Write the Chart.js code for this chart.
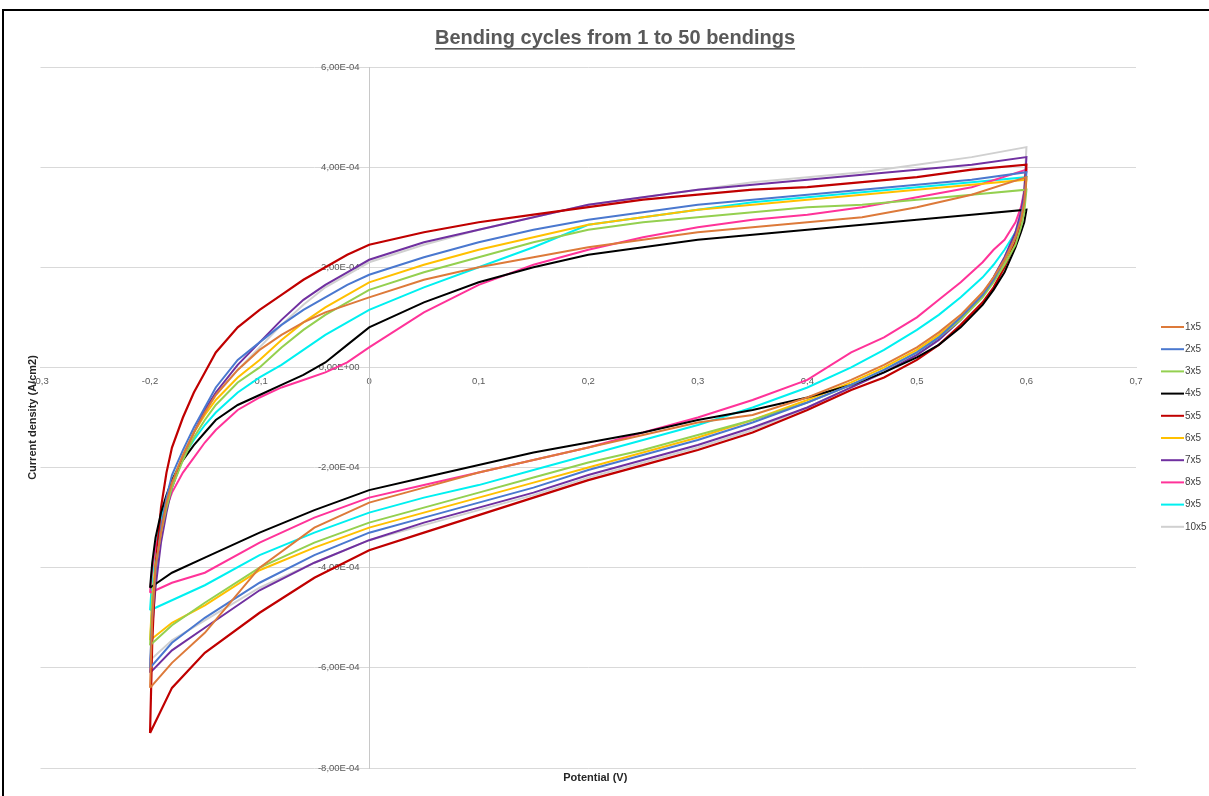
<!DOCTYPE html>
<html lang="en">
<head>
<meta charset="UTF-8">
<title>Bending cycles from 1 to 50 bendings</title>
<script src="https://cdn.jsdelivr.net/npm/chart.js"></script>
<style>
    html, body {
        margin: 0;
        padding: 0;
        background: #ffffff;
        overflow: hidden;
    }
    body {
        width: 1209px;
        height: 796px;
        position: relative;
    }
    #frame {
        position: absolute;
        left: 2px;
        top: 9px;
        width: 1300px;
        height: 900px;
        border: 2px solid #000000;
    }
    #chart-box {
        position: absolute;
        left: 0;
        top: 0;
    }
</style>
</head>
<body>
<div id="frame"></div>
<div id="chart-box"><canvas id="cvChart" width="1209" height="796"></canvas></div>

<script>
// Potential (V): forward scan -0.2 -> 0.6, then reverse scan 0.6 -> -0.2
const potential = [
    -0.2, -0.198, -0.195, -0.19, -0.185, -0.18, -0.17, -0.16, -0.15, -0.14, -0.12, -0.1, -0.08, -0.06, -0.04, -0.02, 0,
    0.05, 0.1, 0.15, 0.2, 0.25, 0.3, 0.35, 0.4, 0.45, 0.5, 0.55, 0.6,
    0.6, 0.598, 0.595, 0.59, 0.58, 0.57, 0.56, 0.54, 0.52, 0.5, 0.47, 0.44, 0.4,
    0.35, 0.3, 0.25, 0.2, 0.15, 0.1, 0.05, 0, -0.05, -0.1, -0.15, -0.18, -0.2
];

// Current density, in units of 1E-04 A/cm2
const cd1x5 = [
    -6.4, -5.0, -4.0, -3.3, -2.7, -2.3, -1.75, -1.3, -0.9, -0.55, -0.05, 0.35, 0.65, 0.9, 1.1, 1.25, 1.4,
    1.75, 2.0, 2.2, 2.4, 2.55, 2.7, 2.8, 2.9, 3.0, 3.2, 3.45, 3.8,
    3.8, 3.3, 2.95, 2.6, 2.15, 1.8, 1.5, 1.05, 0.7, 0.4, 0.05, -0.25, -0.6,
    -0.95, -1.1, -1.35, -1.6, -1.85, -2.1, -2.4, -2.7, -3.2, -4.0, -5.3, -5.9, -6.4
];
const cd2x5 = [
    -6.0, -5.0, -4.1, -3.2, -2.6, -2.15, -1.65, -1.2, -0.8, -0.4, 0.15, 0.5, 0.85, 1.15, 1.4, 1.65, 1.85,
    2.2, 2.5, 2.75, 2.95, 3.1, 3.25, 3.35, 3.45, 3.55, 3.65, 3.75, 3.9,
    3.9, 3.35, 3.0, 2.6, 2.15, 1.75, 1.45, 1.0, 0.6, 0.3, -0.05, -0.35, -0.7,
    -1.1, -1.45, -1.75, -2.05, -2.4, -2.7, -3.0, -3.3, -3.75, -4.3, -5.0, -5.5, -6.0
];
const cd3x5 = [
    -5.55, -4.7, -4.0, -3.3, -2.8, -2.4, -1.85, -1.4, -1.05, -0.75, -0.3, 0.0, 0.4, 0.75, 1.05, 1.3, 1.55,
    1.9, 2.2, 2.5, 2.75, 2.9, 3.0, 3.1, 3.2, 3.25, 3.35, 3.45, 3.55,
    3.55, 3.1, 2.8, 2.45, 2.05, 1.7, 1.4, 0.95, 0.6, 0.3, -0.05, -0.35, -0.7,
    -1.05, -1.35, -1.65, -1.9, -2.2, -2.5, -2.8, -3.1, -3.5, -4.0, -4.7, -5.15, -5.55
];
const cd4x5 = [
    -4.4, -3.9, -3.4, -2.9, -2.55, -2.25, -1.85, -1.55, -1.3, -1.05, -0.75, -0.55, -0.35, -0.15, 0.1, 0.45, 0.8,
    1.3, 1.7, 2.0, 2.25, 2.4, 2.55, 2.65, 2.75, 2.85, 2.95, 3.05, 3.15,
    3.15, 2.9, 2.7, 2.4, 1.9, 1.55, 1.25, 0.8, 0.45, 0.2, -0.1, -0.35, -0.6,
    -0.85, -1.05, -1.3, -1.5, -1.7, -1.95, -2.2, -2.45, -2.85, -3.3, -3.8, -4.1, -4.4
];
const cd5x5 = [
    -7.3, -5.5, -4.0, -2.8, -2.1, -1.6, -1.0, -0.5, -0.1, 0.3, 0.8, 1.15, 1.45, 1.75, 2.0, 2.25, 2.45,
    2.7, 2.9, 3.05, 3.2, 3.35, 3.45, 3.55, 3.6, 3.7, 3.8, 3.95, 4.05,
    4.05, 3.3, 2.9, 2.5, 2.0, 1.6, 1.3, 0.85, 0.45, 0.15, -0.2, -0.45, -0.85,
    -1.3, -1.65, -1.95, -2.25, -2.6, -2.95, -3.3, -3.65, -4.2, -4.9, -5.7, -6.4, -7.3
];
const cd6x5 = [
    -5.45, -4.6, -3.9, -3.2, -2.7, -2.3, -1.75, -1.3, -0.95, -0.65, -0.2, 0.15, 0.55, 0.9, 1.2, 1.45, 1.7,
    2.05, 2.35, 2.6, 2.85, 3.0, 3.15, 3.25, 3.35, 3.45, 3.55, 3.65, 3.75,
    3.75, 3.2, 2.85, 2.5, 2.1, 1.75, 1.45, 1.0, 0.65, 0.35, 0.0, -0.3, -0.65,
    -1.05, -1.4, -1.7, -2.0, -2.3, -2.6, -2.9, -3.2, -3.6, -4.05, -4.75, -5.1, -5.45
];
const cd7x5 = [
    -6.1, -5.2, -4.4, -3.5, -2.9, -2.4, -1.8, -1.3, -0.85, -0.5, 0.05, 0.5, 0.95, 1.35, 1.65, 1.9, 2.15,
    2.5, 2.75, 3.0, 3.25, 3.4, 3.55, 3.65, 3.75, 3.85, 3.95, 4.05, 4.2,
    4.2, 3.5, 3.1, 2.7, 2.2, 1.8, 1.45, 0.95, 0.55, 0.25, -0.1, -0.4, -0.8,
    -1.2, -1.55, -1.85, -2.15, -2.5, -2.8, -3.1, -3.45, -3.9, -4.45, -5.2, -5.65, -6.1
];
const cd8x5 = [
    -4.5, -4.0, -3.6, -3.15, -2.8, -2.5, -2.1, -1.8, -1.5, -1.25, -0.85, -0.6, -0.4, -0.25, -0.1, 0.1, 0.4,
    1.1, 1.65, 2.05, 2.35, 2.6, 2.8, 2.95, 3.05, 3.2, 3.4, 3.6, 3.95,
    3.95, 3.5, 3.2, 2.9, 2.55, 2.35, 2.1, 1.7, 1.35, 1.0, 0.6, 0.3, -0.25,
    -0.65, -1.0, -1.3, -1.6, -1.85, -2.1, -2.35, -2.6, -3.0, -3.5, -4.1, -4.3, -4.5
];
const cd9x5 = [
    -4.85, -4.2, -3.6, -3.0, -2.6, -2.25, -1.8, -1.45, -1.15, -0.9, -0.5, -0.2, 0.05, 0.35, 0.65, 0.9, 1.15,
    1.6, 2.0, 2.4, 2.85, 3.0, 3.15, 3.3, 3.4, 3.5, 3.6, 3.7, 3.8,
    3.8, 3.3, 3.0, 2.7, 2.35, 2.05, 1.8, 1.4, 1.05, 0.75, 0.35, 0.0, -0.4,
    -0.8, -1.15, -1.45, -1.75, -2.05, -2.35, -2.6, -2.9, -3.3, -3.75, -4.35, -4.65, -4.85
];
const cd10x5 = [
    -5.85, -5.0, -4.2, -3.4, -2.85, -2.4, -1.8, -1.3, -0.9, -0.55, -0.05, 0.4, 0.85, 1.25, 1.6, 1.85, 2.1,
    2.45, 2.75, 3.0, 3.25, 3.4, 3.55, 3.7, 3.8, 3.9, 4.05, 4.2, 4.4,
    4.4, 3.6, 3.15, 2.7, 2.2, 1.8, 1.45, 0.95, 0.55, 0.25, -0.1, -0.4, -0.8,
    -1.25, -1.6, -1.9, -2.2, -2.55, -2.85, -3.15, -3.45, -3.9, -4.4, -5.05, -5.45, -5.85
];

const seriesNames = ['1x5', '2x5', '3x5', '4x5', '5x5', '6x5', '7x5', '8x5', '9x5', '10x5'];
const seriesData = [cd1x5, cd2x5, cd3x5, cd4x5, cd5x5, cd6x5, cd7x5, cd8x5, cd9x5, cd10x5];
const seriesColors = ['#dd7a3a', '#4a78cf', '#94d050', '#000000', '#c00000',
                      '#ffc000', '#7030a0', '#ff3399', '#00f0f0', '#d0d0d0'];

const xTicks = [-0.3, -0.2, -0.1, 0, 0.1, 0.2, 0.3, 0.4, 0.5, 0.6, 0.7];
const yTicks = [-8, -6, -4, -2, 0, 2, 4, 6];   // x 1E-04

const chartTitle = 'Bending cycles from 1 to 50 bendings';
const xTitle = 'Potential (V)';
const yTitle = 'Current density (A/cm2)';

const FONT = "'Liberation Sans Narrow', 'Liberation Sans', sans-serif";
Chart.defaults.font.family = FONT;

// "6,00E-04" style labels (values are in 1E-04)
function sciLabel(v) {
    if (Math.abs(v) < 1e-9) return '0,00E+00';
    const s = (v * 1e-4).toExponential(2);        // e.g. "6.00e-4"
    const parts = s.split('e');
    const exp = parseInt(parts[1], 10);
    const expStr = (exp < 0 ? '-' : '+') + String(Math.abs(exp)).padStart(2, '0');
    return parts[0].replace('.', ',') + 'E' + expStr;
}

// title, axis titles and legend, drawn the way Excel lays them out
const decorPlugin = {
    id: 'decor',
    afterDraw(chart) {
        const ctx = chart.ctx;
        const area = chart.chartArea;
        ctx.save();

        ctx.font = 'bold 20px ' + FONT;
        ctx.fillStyle = '#595959';
        ctx.textAlign = 'center';
        ctx.textBaseline = 'middle';
        ctx.fillText(chartTitle, 615, 38);
        const tw = ctx.measureText(chartTitle).width;
        ctx.fillRect(615 - tw / 2, 48, tw, 1.6);

        ctx.font = 'bold 11px ' + FONT;
        ctx.fillStyle = '#262626';
        ctx.fillText(xTitle, (area.left + area.right) / 2 + 7, 778);
        ctx.save();
        ctx.translate(33, (area.top + area.bottom) / 2);
        ctx.rotate(-Math.PI / 2);
        ctx.fillText(yTitle, 0, 0);
        ctx.restore();

        ctx.font = '10px ' + FONT;
        ctx.textAlign = 'left';
        chart.data.datasets.forEach((ds, i) => {
            const y = 327 + i * 22.2;
            ctx.strokeStyle = ds.borderColor;
            ctx.lineWidth = 2;
            ctx.beginPath();
            ctx.moveTo(1161, y);
            ctx.lineTo(1184, y);
            ctx.stroke();
            ctx.fillStyle = '#404040';
            ctx.fillText(ds.label, 1185, y);
        });
        ctx.restore();
    }
};

const datasets = seriesNames.map((name, i) => ({
    label: name,
    data: potential.map((p, k) => ({ x: p, y: seriesData[i][k] })),
    borderColor: seriesColors[i],
    backgroundColor: seriesColors[i],
    borderWidth: name === '5x5' ? 2.2 : 2,
    showLine: true,
    pointRadius: 0,
    tension: 0
}));

const ctx = document.getElementById('cvChart').getContext('2d');
const cvChart = new Chart(ctx, {
    type: 'scatter',
    data: { datasets: datasets },
    options: {
        responsive: false,
        animation: false,
        layout: {
            padding: { left: 40.5, right: 73, top: 67, bottom: 28 }
        },
        plugins: {
            legend: { display: false },
            tooltip: { enabled: false }
        },
        scales: {
            x: {
                type: 'linear',
                min: xTicks[0],
                max: xTicks[xTicks.length - 1],
                position: { y: 0 },
                grid: { display: false, drawTicks: false },
                border: { display: true, color: '#d9d9d9', width: 1 },
                afterBuildTicks(scale) {
                    scale.ticks = xTicks.map(v => ({ value: v }));
                },
                ticks: {
                    padding: 8,
                    color: '#595959',
                    font: { size: 9.5 },
                    maxRotation: 0,
                    autoSkip: false,
                    callback: v => String(Math.round(v * 10) / 10).replace('.', ',')
                },
                afterFit(scale) { scale.height = 0; }
            },
            y: {
                type: 'linear',
                min: yTicks[0],
                max: yTicks[yTicks.length - 1],
                position: { x: 0 },
                grid: { color: '#d9d9d9', lineWidth: 1, drawTicks: false },
                border: { display: true, color: '#c8c8c8', width: 1 },
                afterBuildTicks(scale) {
                    scale.ticks = yTicks.map(v => ({ value: v }));
                },
                ticks: {
                    color: '#595959',
                    font: { size: 9.5 },
                    // the label sits a little left of the axis line
                    callback: v => sciLabel(v) + '\u2002\u2002'
                },
                afterFit(scale) { scale.width = 0; }
            }
        }
    },
    plugins: [decorPlugin]
});
</script>
</body>
</html>
